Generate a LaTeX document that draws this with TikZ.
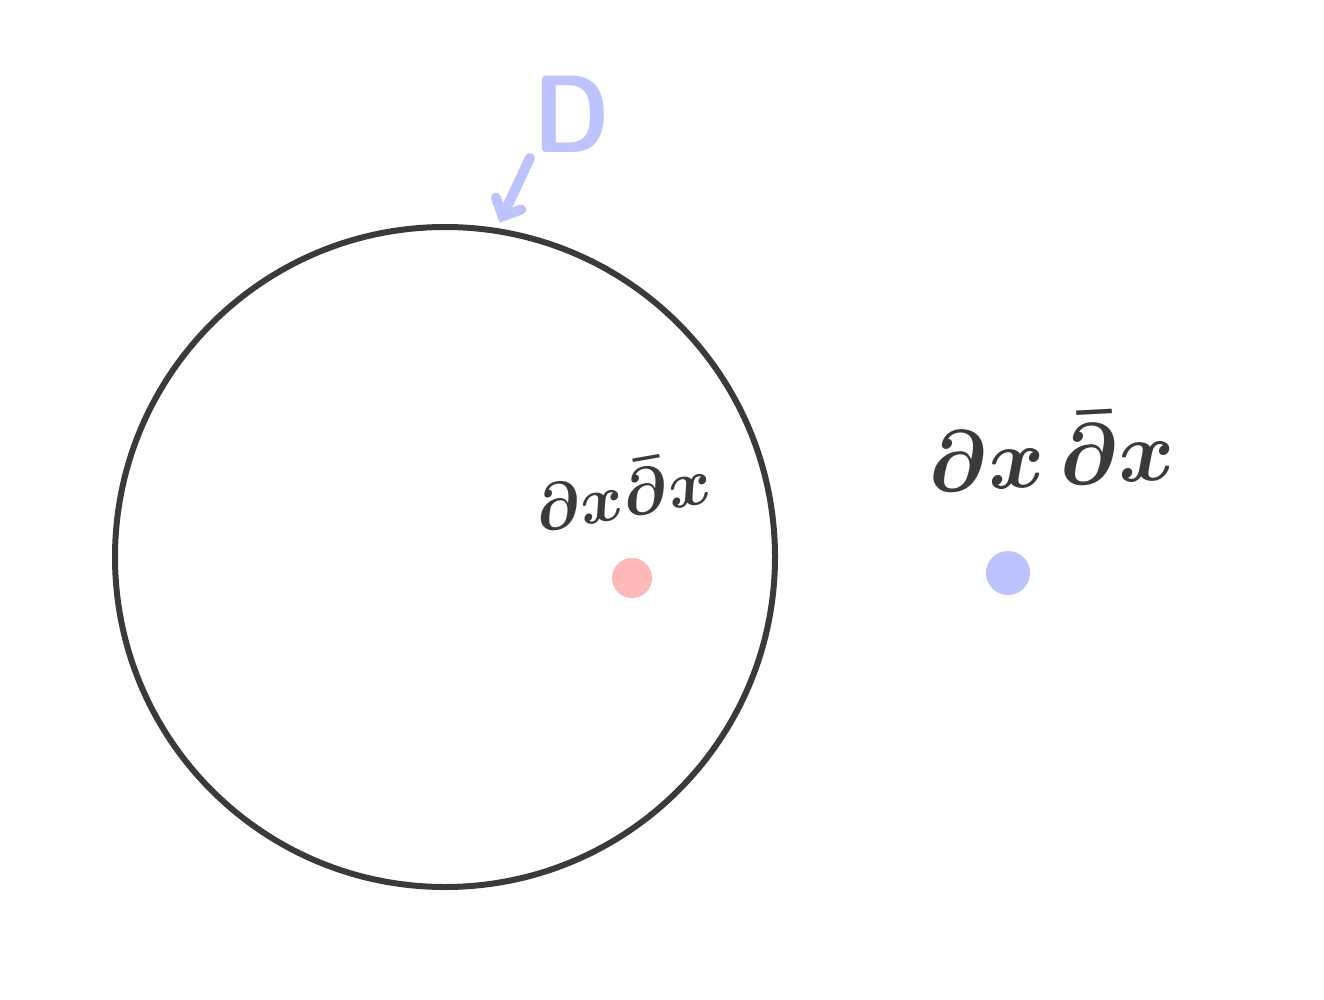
\documentclass[tikz,border=0pt]{standalone}
\usepackage{amsmath,bm}
\usetikzlibrary{arrows.meta}
\definecolor{ink}{HTML}{3A3A3A}
\definecolor{lblue}{HTML}{BCC3FE}
\definecolor{lpink}{HTML}{FFB8B8}
\tikzset{
  handtext/.style={text=ink, inner sep=0pt},
  blob/.style={circle, inner sep=0pt},
}
\begin{document}
\begin{tikzpicture}[x=1pt,y=-1pt]
\useasboundingbox[fill=white] (0,0) rectangle (1324,1000);
\node[circle, draw=ink, line width=6pt, minimum size=660pt, inner sep=0pt] (circ) at (445,557) {};
\node[handtext, rotate=10] (inner) at (622,490) {\scalebox{6.6}{$\bm{\partial x\bar{\partial} x}$}};
\node[handtext, rotate=3] (outer) at (1051,450) {\scalebox{8.6}{$\bm{\partial x\,\bar{\partial} x}$}};
\node[blob, fill=lpink, minimum size=40pt] (pdot) at (632,578) {};
\node[blob, fill=lblue, minimum size=44pt] (bdot) at (1008,573) {};
\node[text=lblue, inner sep=2pt, xscale=0.88] (D) at (572,114) {\fontsize{110}{110}\selectfont\sffamily\bfseries D};
\draw[lblue, line width=10pt, line cap=round, -{Straight Barb[length=14pt,width=28pt,line cap=round]}, shorten <=4pt, shorten >=6pt] (D.south west) -- (circ.81);
\end{tikzpicture}
\end{document}
